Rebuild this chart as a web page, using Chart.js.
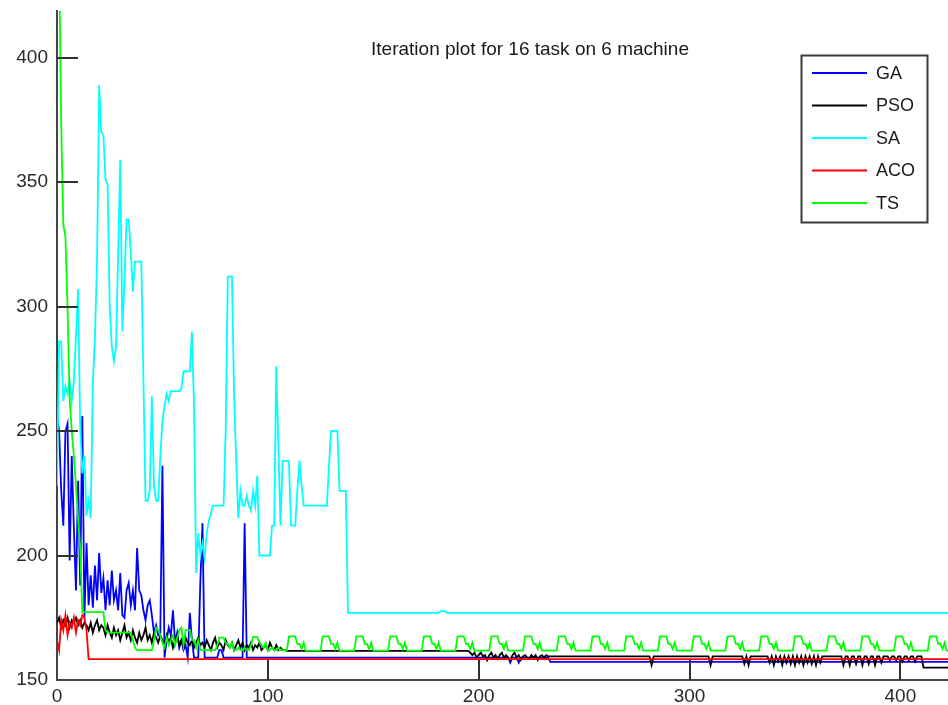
<!DOCTYPE html>
<html><head><meta charset="utf-8">
<script src="https://cdn.jsdelivr.net/npm/chart.js@4.4.0/dist/chart.umd.min.js"></script>
<style>html,body{margin:0;padding:0;background:#fff;overflow:hidden}canvas{display:block}</style>
</head><body>
<canvas id="c" width="948" height="705"></canvas>
<script>
const chartTitle = "Iteration plot for 16 task on 6 machine";
const seriesNames = ["GA", "PSO", "SA", "ACO", "TS"];
const seriesColors = ["#0000ff", "#000000", "#00ffff", "#ff0000", "#00ff00"];
const xTicks = [0, 100, 200, 300, 400];
const yTicks = [150, 200, 250, 300, 350, 400];
const xRange = [0, 422.6];
const yRange = [150, 418.7];

// "Head" arrays: value at iteration 0,1,2,...  "Tail" arrays: [iteration, value] break points after the head.
const gaHead = [256,250,226,212,250,253,198,240,211,186,230,188,256,175,205,180,192,179,196,182,
  201,185,191,178,190,180,194,182,186,178,193,176,175,186,189,180,186,178,203,186,
  184,178,174,180,182,176,169,172,168,169,236,159,166,171,168,178,165,169,163,166,
  162,164,159,177,166,159,159,159,190,213,159];
const gaTail = [[76,159],[77,162],[78,162],[79,159],[88,159],[89,213],[90,159],[214,159],[215,157],[216,159],
  [218,159],[219,157],[220,159],[233,159],[234,157.3],[423,157.3]];

const psoHead = [173,175,171,174,172,175,171,174,173,175,172,174,171,173,
  172,170,173,169,172,174,170,172,
  171,168,172,169,167,171,168,170,166,169,172,167,169,166,
  170,167,165,169,166,168,171,166,168,165,169,167,165,168,
  166,164,168,165,167,163,166,168,164,166,163,167,165,164,166,163,165,167,164,
  165,163,166,164,162,165,167,163,165,164,162,166,164,163,165,162,164,166,163,165,
  162,164,163,165,162,164,163,165,162,163,164,162,165,163,162,164,162,163,162,162,161.7];
const psoTail = [[195,161.7],[196,161],[197,160],[198,161],[199,159],[200,160],[201,161],[202,159.5],[203,160],[204,158],
  [205,160],[206,161],[207,159],[208,160],[209,158.5],[210,160],[211,161],[212,159],[213,160],[214,159],
  [215,158],[216,160],[217,161],[218,159],[219,160],[220,158],[221,159.5],[222,160],[223,159],[224,158.5],
  [225,160],[226,159],[227,160],[228,158],[229,159.5],[230,160],[231,159],[232,160],[233,159.5],[234,159.5],
  [281,159.5],[282,156],[283,159.5],[309,159.5],[310,156],[311,159.5],[325,159.5],[326,156.5],[327,159.5],[328,156],[329,159.5],
  [337,159.5],[338,157],[339,159.5],[340,156],[341,159.5],[342,157.5],[343,159.5],[344,156],[345,159.5],[346,157],
  [347,159.5],[348,156.5],[349,159.5],[350,156],[351,159.5],[352,157],[353,159.5],[354,156],[355,159.5],[356,157],
  [357,159.5],[358,156.5],[359,159.5],[360,156],[361,159.5],[362,157],[363,159.5],
  [372,159.5],[373,156],[374,159.5],[375,159.5],[376,156],[377,159.5],[378,159.5],[379,156.5],[380,159.5],[381,159.5],
  [382,156],[383,159.5],[384,159.5],[385,156.5],[386,159.5],[387,159.5],[388,156],[389,159.5],[390,159.5],[391,157],
  [392,159.5],[394,159.5],[395,158],[396,159.5],[397,159.5],[398,158],[399,159.5],[400,159.5],[401,157.5],[402,159.5],
  [403,159.5],[404,158],[405,159.5],[406,159.5],[407,157.5],[408,159.5],[410,159.5],[411,155],[423,155]];

const saHead = [228,286,286,262,268,265,270,262,270,288,307,252,233,240,216,222,215,269,288,319,
  389,370,369,351,349,300,284,278,284,321,359,290,310,335,335,322,306,318,318,318,
  318,270,222,222,226,264,228,222,222,240,254,260,265,262,266,266,266,266,266,267,
  274,274,274,274,290,260,193,209,200,205,199,209,214,217,220,220,220,220,220,220,
  250,312,312,312,264,238,215,226,220,220,224,220,218,226,220,232,200,200,200,200,
  200,200,212,212,276,244,212,238,238,238,238,212,212,212,226,238,228,220,220,220,
  220,220,220,220,220,220,220,220,220,236,250,250,250,250,226,226,226,226,177];
const saTail = [[181,177],[182,177.7],[184,177.7],[185,177],[423,177]];

const acoHead = [166,162,174,170,176,168,173,171,175,169,174,172,176,175,170];
const acoTail = [[15,158.4],[423,158.4]];

const tsHead = [450,440,373,333,328,299,263,250,240,228,215,203,177.3,
  177.3,177.3,177.3,177.3,177.3,177.3,177.3,177.3,177.3,177.3,
  170,169,169,169,169,169,169,169,169,169,169,169,169,
  166,163,162,162,162,162,162,162,162,162,
  166,171,170,168,165,163,167,164,166,168,164,167,170,171,
  164,170,170,170,166,166,163,166,162,162,162,162,162,162,162,162,
  164,167,167,167,165,164.5,163,165,162,162,163,162,162,163,162,162,
  164,167.3,167.3,167.3,165,164,163,165,162,162,163,162,162,163,162,162];
const tsTail = [
  [109,161.8],[110,167.5],[113,167.5],[114,164.5],[115,164.5],[116,162.5],[117,165],[118,161.8],
  [125,161.8],[126,167.5],[129,167.5],[130,164.5],[131,164.5],[132,162.5],[133,165],[134,161.8],
  [141,161.8],[142,167.5],[145,167.5],[146,164.5],[147,164.5],[148,162.5],[149,165],[150,161.8],
  [157,161.8],[158,167.5],[161,167.5],[162,164.5],[163,164.5],[164,162.5],[165,165],[166,161.8],
  [173,161.8],[174,167.5],[177,167.5],[178,164.5],[179,164.5],[180,162.5],[181,165],[182,161.8],
  [189,161.8],[190,167.5],[193,167.5],[194,164.5],[195,164.5],[196,162.5],[197,165],[198,161.8],
  [205,161.8],[206,167.5],[209,167.5],[210,164.5],[211,164.5],[212,162.5],[213,165],[214,161.8],
  [221,161.8],[222,167.5],[225,167.5],[226,164.5],[227,164.5],[228,162.5],[229,165],[230,161.8],
  [237,161.8],[238,167.5],[241,167.5],[242,164.5],[243,164.5],[244,162.5],[245,165],[246,161.8],
  [253,161.8],[254,167.5],[257,167.5],[258,164.5],[259,164.5],[260,162.5],[261,165],[262,161.8],
  [269,161.8],[270,167.5],[273,167.5],[274,164.5],[275,164.5],[276,162.5],[277,165],[278,161.8],
  [285,161.8],[286,167.5],[289,167.5],[290,164.5],[291,164.5],[292,162.5],[293,165],[294,161.8],
  [301,161.8],[302,167.5],[305,167.5],[306,164.5],[307,164.5],[308,162.5],[309,165],[310,161.8],
  [317,161.8],[318,167.5],[321,167.5],[322,164.5],[323,164.5],[324,162.5],[325,165],[326,161.8],
  [333,161.8],[334,167.5],[337,167.5],[338,164.5],[339,164.5],[340,162.5],[341,165],[342,161.8],
  [349,161.8],[350,167.5],[353,167.5],[354,164.5],[355,164.5],[356,162.5],[357,165],[358,161.8],
  [365,161.8],[366,167.5],[369,167.5],[370,164.5],[371,164.5],[372,162.5],[373,165],[374,161.8],
  [381,161.8],[382,167.5],[385,167.5],[386,164.5],[387,164.5],[388,162.5],[389,165],[390,161.8],
  [397,161.8],[398,167.5],[401,167.5],[402,164.5],[403,164.5],[404,162.5],[405,165],[406,161.8],
  [413,161.8],[414,167.5],[417,167.5],[418,164.5],[419,164.5],[420,162.5],[421,165],[422,161.8],[423,161.8]];

function toPoints(head, tail) {
  return head.map((v, i) => ({x: i, y: v})).concat(tail.map(p => ({x: p[0], y: p[1]})));
}
const seriesData = [toPoints(gaHead, gaTail), toPoints(psoHead, psoTail), toPoints(saHead, saTail),
  toPoints(acoHead, acoTail), toPoints(tsHead, tsTail)];

const FONT = "'Liberation Sans', Arial, sans-serif";

const decoPlugin = {
  id: 'deco',
  afterDatasetsDraw(chart) {
    const ctx = chart.ctx, a = chart.chartArea;
    const xs = chart.scales.x, ys = chart.scales.y;
    ctx.save();
    // inward tick marks
    ctx.strokeStyle = '#303030';
    ctx.lineWidth = 2;
    ctx.beginPath();
    yTicks.forEach(v => { if (v === yRange[0]) return; const p = Math.round(ys.getPixelForValue(v));
      ctx.moveTo(a.left, p); ctx.lineTo(a.left + 21, p); });
    xTicks.forEach(v => { if (v === xRange[0]) return; const p = Math.round(xs.getPixelForValue(v));
      ctx.moveTo(p, a.bottom); ctx.lineTo(p, a.bottom - 20); });
    ctx.stroke();
    // title inside the axes
    ctx.fillStyle = '#1a1a1a';
    ctx.font = '19px ' + FONT;
    ctx.textAlign = 'center';
    ctx.textBaseline = 'middle';
    ctx.fillText(chartTitle, 530, 50);
    // legend box
    const bx = 801.5, by = 55.5, bw = 126, bh = 167;
    ctx.fillStyle = '#fff';
    ctx.fillRect(bx, by, bw, bh);
    ctx.strokeStyle = '#3a3a3a';
    ctx.lineWidth = 2;
    ctx.strokeRect(bx, by, bw, bh);
    ctx.font = '18px ' + FONT;
    ctx.textAlign = 'left';
    chart.data.datasets.forEach((ds, i) => {
      const y = 73 + i * 32.5;
      ctx.strokeStyle = ds.borderColor;
      ctx.lineWidth = 2;
      ctx.beginPath(); ctx.moveTo(812, y); ctx.lineTo(867, y); ctx.stroke();
      ctx.fillStyle = '#1a1a1a';
      ctx.fillText(ds.label, 876, y + 1);
    });
    ctx.restore();
  }
};

new Chart(document.getElementById('c'), {
  type: 'line',
  data: {
    datasets: seriesNames.map((name, i) => ({
      label: name,
      data: seriesData[i],
      borderColor: seriesColors[i],
      backgroundColor: seriesColors[i],
      borderWidth: 1.8,
      pointRadius: 0,
      tension: 0,
      fill: false,
      order: 5 - i
    }))
  },
  options: {
    responsive: false,
    animation: false,
    devicePixelRatio: 1,
    layout: {padding: {top: 11, left: 0, right: 0, bottom: 0}},
    plugins: {legend: {display: false}, title: {display: false}, tooltip: {enabled: false}},
    scales: {
      x: {
        type: 'linear', min: xRange[0], max: xRange[1],
        afterBuildTicks: s => { s.ticks = xTicks.map(v => ({value: v})); },
        afterFit: s => { s.height = 25; s.paddingLeft = 0; s.paddingRight = 0; },
        grid: {display: true, drawOnChartArea: false, drawTicks: false},
        border: {display: true, color: '#444', width: 2},
        ticks: {font: {family: FONT, size: 19}, color: '#2a2a2a', padding: 5, maxRotation: 0, autoSkip: false}
      },
      y: {
        type: 'linear', min: yRange[0], max: yRange[1],
        afterBuildTicks: s => { s.ticks = yTicks.map(v => ({value: v})); },
        afterFit: s => { s.width = 57; s.paddingTop = 0; s.paddingBottom = 0; },
        grid: {display: true, drawOnChartArea: false, drawTicks: false},
        border: {display: true, color: '#444', width: 2},
        ticks: {font: {family: FONT, size: 19}, color: '#2a2a2a', padding: 9}
      }
    }
  },
  plugins: [decoPlugin]
});
</script>
</body></html>
